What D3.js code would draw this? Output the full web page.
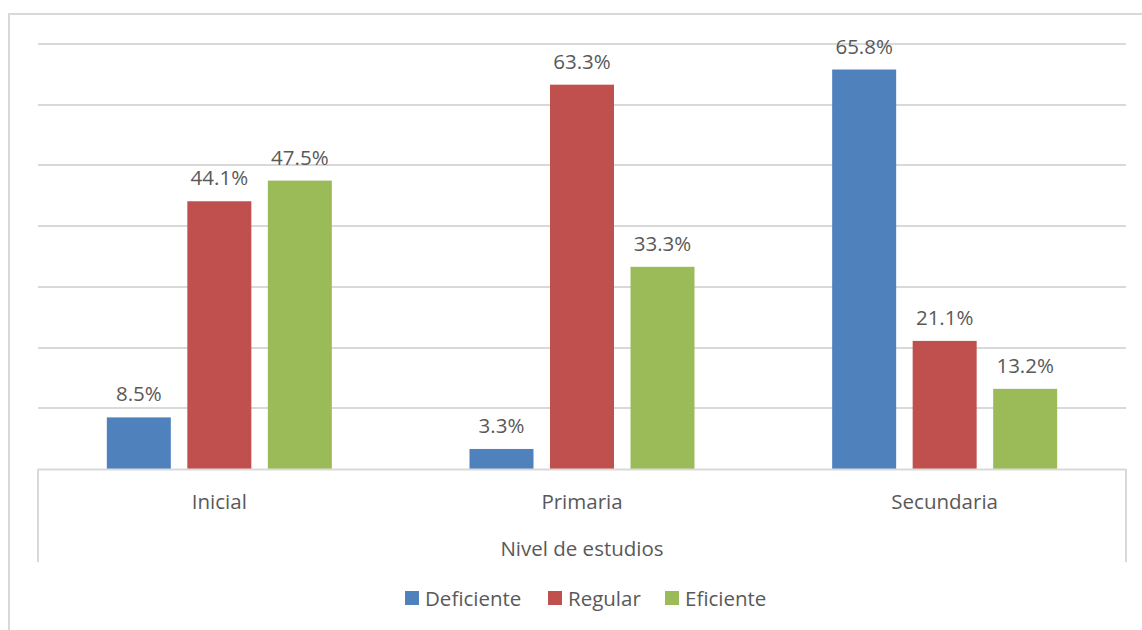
<!DOCTYPE html>
<html>
<head>
<meta charset="utf-8">
<script src="https://cdn.jsdelivr.net/npm/d3@7"></script>
<style>
  html, body { margin: 0; padding: 0; background: #fff; }
  svg { display: block; }
  text { font-family: "Open Sans", "Noto Sans", sans-serif; fill: #595959; }
</style>
</head>
<body>
<svg id="chart" width="1142" height="630"></svg>
<script>
// Data
const categories = ["Inicial", "Primaria", "Secundaria"];
const seriesNames = ["Deficiente", "Regular", "Eficiente"];
const deficiente = [8.5, 3.3, 65.8];
const regular = [44.1, 63.3, 21.1];
const eficiente = [47.5, 33.3, 13.2];
const gridTicks = [10, 20, 30, 40, 50, 60, 70];
const axisTitle = "Nivel de estudios";

const seriesValues = [deficiente, regular, eficiente];
const colors = ["#4F81BD", "#C0504D", "#9BBB59"];

const svg = d3.select("#chart");

// Outer chart frame
svg.append("rect")
  .attr("x", 9).attr("y", 14)
  .attr("width", 1150).attr("height", 640)
  .attr("fill", "none").attr("stroke", "#D9D9D9").attr("stroke-width", 2);

const plotLeft = 38, plotRight = 1126, plotTop = 44, plotBase = 469;

const y = d3.scaleLinear().domain([0, 70]).range([plotBase, plotTop]);
const x0 = d3.scaleBand().domain(categories).range([plotLeft, plotRight]).padding(0);
const groupW = 225;
const x1 = d3.scaleBand().domain(seriesNames).range([0, groupW]).paddingInner(0.205).paddingOuter(0);
const groupOffset = (x0.bandwidth() - groupW) / 2;

// Horizontal gridlines
svg.append("g").selectAll("line")
  .data(gridTicks)
  .join("line")
  .attr("x1", plotLeft).attr("x2", plotRight)
  .attr("y1", d => Math.round(y(d))).attr("y2", d => Math.round(y(d)))
  .attr("stroke", "#D9D9D9").attr("stroke-width", 2);

// Bars and value labels
const rows = [];
categories.forEach((c, i) => {
  seriesNames.forEach((s, j) => {
    rows.push({ cat: c, series: s, value: seriesValues[j][i], color: colors[j] });
  });
});

const g = svg.append("g");
g.selectAll("rect")
  .data(rows)
  .join("rect")
  .attr("x", d => x0(d.cat) + groupOffset + x1(d.series))
  .attr("y", d => y(d.value))
  .attr("width", x1.bandwidth())
  .attr("height", d => plotBase - y(d.value))
  .attr("fill", d => d.color);

g.selectAll("text.val")
  .data(rows)
  .join("text")
  .attr("class", "val")
  .attr("x", d => x0(d.cat) + groupOffset + x1(d.series) + x1.bandwidth() / 2)
  .attr("y", d => y(d.value) - 16)
  .attr("text-anchor", "middle")
  .attr("font-size", 20.5)
  .text(d => d.value.toFixed(1) + "%");

// Category axis box
const axisG = svg.append("g");
axisG.append("line")
  .attr("x1", plotLeft).attr("x2", plotRight).attr("y1", plotBase + 0.5).attr("y2", plotBase + 0.5)
  .attr("stroke", "#D9D9D9").attr("stroke-width", 2);
[plotLeft, plotRight].forEach(xv => {
  axisG.append("line")
    .attr("x1", xv).attr("x2", xv).attr("y1", plotBase).attr("y2", 562)
    .attr("stroke", "#D9D9D9").attr("stroke-width", 2);
});

axisG.selectAll("text.cat")
  .data(categories)
  .join("text")
  .attr("class", "cat")
  .attr("x", d => x0(d) + x0.bandwidth() / 2)
  .attr("y", 509)
  .attr("text-anchor", "middle")
  .attr("font-size", 20.5)
  .text(d => d);

axisG.append("text")
  .attr("x", (plotLeft + plotRight) / 2)
  .attr("y", 556)
  .attr("text-anchor", "middle")
  .attr("font-size", 20.5)
  .text(axisTitle);

// Legend
const legendX = [405, 548, 665];
const legend = svg.append("g");
seriesNames.forEach((s, i) => {
  legend.append("rect")
    .attr("x", legendX[i]).attr("y", 591)
    .attr("width", 14).attr("height", 14)
    .attr("fill", colors[i]);
  legend.append("text")
    .attr("x", legendX[i] + 20).attr("y", 606)
    .attr("font-size", 20.5)
    .text(s);
});
</script>
</body>
</html>
